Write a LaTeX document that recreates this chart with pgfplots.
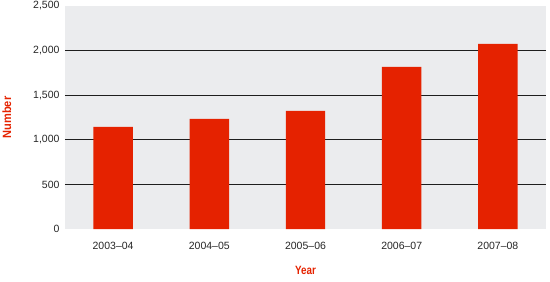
\documentclass[border=0pt]{standalone}
\usepackage{fontspec}
\setmainfont{Liberation Sans}
\usepackage{graphicx}
\usepackage{pgfplots}
\pgfplotsset{compat=1.18}
\definecolor{barred}{HTML}{E52200}
\definecolor{bggray}{HTML}{EBECEE}
\definecolor{gridc}{HTML}{1E1E1E}
\begin{document}
\begin{tikzpicture}
\begin{axis}[
  at={(0,0)}, anchor=south west,
  scale only axis,
  width=481bp, height=223bp,
  xmin=-0.5, xmax=4.5,
  ymin=0, ymax=2500,
  axis line style={draw=none},
  axis background/.style={fill=bggray},
  xtick={0,1,2,3,4},
  xticklabels={2003--04,2004--05,2005--06,2006--07,2007--08},
  ytick={0,500,1000,1500,2000,2500},
  extra y ticks={500,1000,1500,2000},
  extra y tick labels={},
  extra y tick style={ymajorgrids=true, major grid style={draw=gridc, line width=1.1bp}},
  major tick length=0pt,
  tick label style={font=\fontsize{10.5bp}{12bp}\selectfont, text=black!85},
  xticklabel style={yshift=-10bp},
  yticklabel style={xshift=-2bp},
  /pgf/number format/assume math mode=true,
  /pgf/number format/1000 sep={,},
  scaled y ticks=false,
  xlabel={\scalebox{0.82}[1]{Year}}, ylabel={\scalebox{0.92}[1]{Number}},
  label style={font=\bfseries\fontsize{12bp}{13bp}\selectfont, text=barred},
  xlabel style={yshift=-9bp},
  ylabel style={yshift=15bp},
  clip=false,
]
\addplot[ybar, bar width=0.41, fill=barred, draw=none] coordinates {
  (0,1145) (1,1235) (2,1325) (3,1818) (4,2075)
};
\end{axis}
\pgfresetboundingbox
\path (-65bp,-53bp) rectangle (485bp,229bp);
\end{tikzpicture}
\end{document}
